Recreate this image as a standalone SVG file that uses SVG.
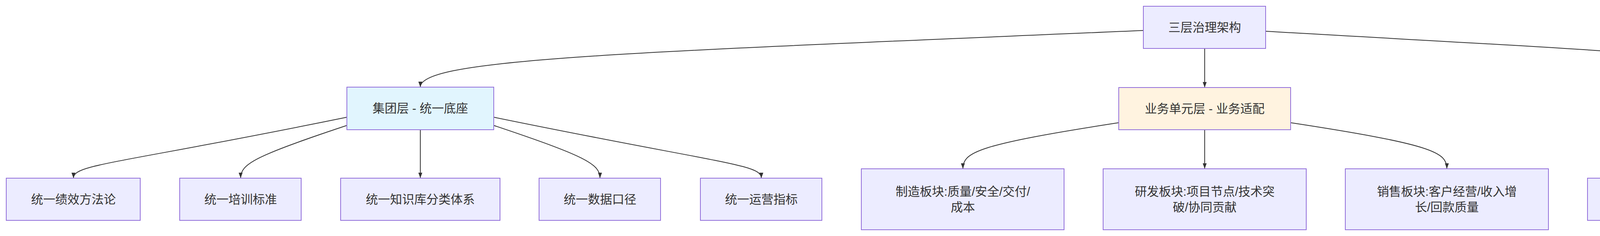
<svg xmlns="http://www.w3.org/2000/svg" width="5280" height="604" viewBox="0 0 5280 604">
<style>
.n rect{fill:#ECECFF;stroke:#9370DB;stroke-width:2}
.g rect{fill:#E1F5FE}
.b rect{fill:#FFF3E0}
.i rect{fill:#E8F5E9}
text{font-family:"Liberation Sans","Noto Sans CJK SC",sans-serif;font-size:31px;fill:#333;text-anchor:middle;dominant-baseline:central}
.e path{fill:none;stroke:#333;stroke-width:2;marker-end:url(#a)}
</style>
<defs><marker id="a" markerUnits="userSpaceOnUse" markerWidth="14" markerHeight="14" viewBox="0 0 14 14" refX="14" refY="7" orient="auto"><path d="M0,2 L14,7 L0,12 Z" fill="#333"/></marker></defs>
<g class="e">
<path d="M3084,124 L3084,224"/>
<path d="M2927,78 C1600,135 1076,150 1076,223"/>
<path d="M3240,80 C4100,130 4664,150 4664,224"/>
<path d="M888,300 C300,420 188,420 188,456"/>
<path d="M888,321 C650,400 616,420 616,456"/>
<path d="M1076,332 L1076,456"/>
<path d="M1264,321 C1500,400 1536,420 1536,456"/>
<path d="M1264,300 C1850,420 1949,420 1949,456"/>
<path d="M2864,314 C2500,370 2465,390 2465,432"/>
<path d="M3084,332 L3084,432"/>
<path d="M3304,314 C3670,370 3704,390 3704,432"/>
<path d="M4477,323 C4260,380 4236,410 4236,456"/>
<path d="M4664,332 L4664,456"/>
<path d="M4851,323 C5070,380 5092,410 5092,456"/>
</g>
<g id="root" class="n"><rect x="2927" y="16" width="313" height="108"/><text x="3084" y="70">三层治理架构</text></g>
<g id="group" class="n g"><rect x="888" y="223" width="376" height="109"/><text x="1076" y="277">集团层 - 统一底座</text></g>
<g id="bu" class="n b"><rect x="2864" y="224" width="440" height="108"/><text x="3084" y="278">业务单元层 - 业务适配</text></g>
<g id="ind" class="n i"><rect x="4477" y="224" width="374" height="108"/><text x="4664" y="278">个体层 - 精准赋能</text></g>
<g id="g1" class="n"><rect x="16" y="456" width="343" height="108"/><text x="188" y="510">统一绩效方法论</text></g>
<g id="g2" class="n"><rect x="460" y="456" width="311" height="108"/><text x="616" y="510">统一培训标准</text></g>
<g id="g3" class="n"><rect x="872" y="456" width="408" height="108"/><text x="1076" y="510">统一知识库分类体系</text></g>
<g id="g4" class="n"><rect x="1380" y="456" width="311" height="108"/><text x="1536" y="510">统一数据口径</text></g>
<g id="g5" class="n"><rect x="1793" y="456" width="311" height="108"/><text x="1949" y="510">统一运营指标</text></g>
<g id="b1" class="n"><rect x="2205" y="432" width="519" height="156"/><text x="2465" y="490">制造板块:质量/安全/交付/</text><text x="2465" y="530">成本</text></g>
<g id="b2" class="n"><rect x="2824" y="432" width="520" height="156"/><text x="3084" y="490">研发板块:项目节点/技术突</text><text x="3084" y="530">破/协同贡献</text></g>
<g id="b3" class="n"><rect x="3444" y="432" width="520" height="156"/><text x="3704" y="490">销售板块:客户经营/收入增</text><text x="3704" y="530">长/回款质量</text></g>
<g id="i1" class="n"><rect x="4064" y="456" width="343" height="108"/><text x="4236" y="510">个性化绩效辅导</text></g>
<g id="i2" class="n"><rect x="4508" y="456" width="312" height="108"/><text x="4664" y="510">智能学习推荐</text></g>
<g id="i3" class="n"><rect x="4920" y="456" width="343" height="108"/><text x="5092" y="510">场景化知识推送</text></g>
</svg>
